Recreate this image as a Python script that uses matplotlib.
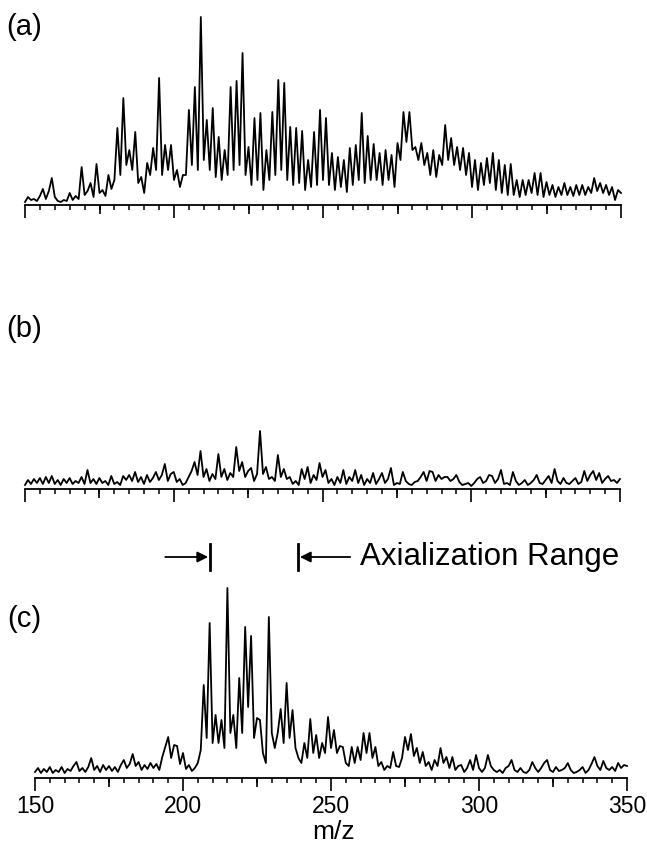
import numpy as np
import matplotlib
matplotlib.use("Agg")
import matplotlib.pyplot as plt

plt.rcParams['font.family'] = ['Liberation Sans', 'DejaVu Sans']

# m/z axis (one value per mass unit)
mz = list(range(150, 351))

# Panel (a) intensities (arbitrary units), m/z 150..350
spec_a = [
    3, 8, 5, 6, 4, 9, 16, 6, 14, 27,            # 150-159
    8, 4, 3, 5, 4, 12, 5, 9, 6, 38,             # 160-169
    10, 14, 22, 8, 41, 12, 15, 9, 30, 16,       # 170-179
    25, 77, 30, 107, 40, 55, 35, 73, 22, 28,    # 180-189
    12, 42, 30, 57, 35, 127, 30, 60, 35, 60,    # 190-199
    25, 35, 18, 30, 30, 95, 40, 118, 35, 188,   # 200-209
    45, 85, 35, 97, 28, 68, 25, 55, 30, 118,    # 210-219
    35, 124, 40, 152, 30, 58, 20, 87, 25, 92,   # 220-229
    15, 55, 25, 93, 30, 125, 35, 122, 25, 78,   # 230-239
    20, 77, 22, 74, 15, 45, 18, 73, 20, 95,     # 240-249
    25, 87, 20, 52, 15, 48, 18, 45, 13, 57,     # 250-259
    20, 60, 25, 92, 22, 69, 25, 61, 25, 52,     # 260-269
    20, 55, 25, 50, 18, 62, 45, 93, 63, 93,     # 270-279
    55, 58, 45, 62, 40, 52, 30, 55, 28, 50,     # 280-289
    40, 80, 45, 67, 40, 58, 35, 57, 30, 52,     # 290-299
    18, 45, 15, 42, 20, 47, 22, 52, 15, 45,     # 300-309
    12, 40, 10, 41, 10, 25, 8, 25, 10, 25,      # 310-319
    12, 32, 10, 32, 8, 23, 10, 20, 8, 18,       # 320-329
    10, 22, 10, 18, 9, 20, 10, 20, 10, 18,      # 330-339
    12, 27, 14, 22, 12, 20, 10, 18, 5, 15,      # 340-349
    12,                                          # 350
]

# Panel (b) intensities, m/z 150..350
spec_b = [
    4, 9, 5, 10, 6, 11, 5, 12, 6, 13,           # 150-159
    5, 9, 4, 10, 6, 11, 5, 8, 6, 12,            # 160-169
    5, 19, 6, 10, 5, 11, 6, 8, 4, 13,           # 170-179
    5, 7, 4, 13, 9, 14, 8, 17, 7, 12,           # 180-189
    5, 14, 7, 11, 17, 9, 14, 25, 8, 15,         # 190-199
    17, 7, 10, 4, 6, 12, 18, 27, 14, 38,        # 200-209
    12, 20, 8, 15, 10, 35, 12, 20, 9, 16,       # 210-219
    12, 42, 18, 27, 12, 18, 21, 8, 15, 58,      # 220-229
    15, 22, 10, 12, 8, 34, 12, 20, 10, 12,      # 230-239
    5, 8, 4, 20, 10, 22, 6, 14, 9, 26,          # 240-249
    12, 19, 6, 10, 4, 12, 6, 19, 5, 12,         # 250-259
    8, 19, 6, 14, 4, 10, 6, 16, 5, 10,          # 260-269
    16, 6, 10, 21, 4, 6, 5, 17, 8, 5,           # 270-279
    4, 7, 8, 12, 17, 8, 18, 17, 8, 14,          # 280-289
    10, 12, 12, 8, 10, 14, 7, 4, 5, 6,          # 290-299
    3, 6, 10, 12, 6, 8, 14, 13, 6, 10,          # 300-309
    19, 5, 6, 4, 17, 8, 4, 6, 9, 4,             # 310-319
    6, 9, 14, 6, 5, 9, 13, 6, 20, 8,            # 320-329
    5, 11, 6, 5, 8, 11, 5, 7, 18, 8,            # 330-339
    14, 18, 9, 16, 6, 10, 13, 8, 9, 6,          # 340-349
    10,                                          # 350
]

# Panel (c) intensities, m/z 150..350
spec_c = [
    6, 10, 5, 9, 6, 11, 5, 8, 6, 11,            # 150-159
    5, 9, 7, 12, 16, 7, 10, 6, 11, 20,          # 160-169
    8, 12, 6, 13, 8, 12, 7, 11, 6, 13,          # 170-179
    18, 10, 14, 24, 12, 16, 8, 13, 9, 15,       # 180-189
    10, 14, 8, 21, 31, 41, 20, 33, 32, 14,      # 190-199
    25, 9, 13, 7, 10, 15, 28, 93, 40, 155,      # 200-209
    35, 63, 35, 58, 30, 190, 45, 63, 30, 100,   # 210-219
    45, 151, 71, 142, 40, 60, 58, 25, 15, 161,  # 220-229
    45, 30, 45, 69, 35, 95, 40, 68, 30, 20,     # 230-239
    15, 35, 20, 59, 25, 43, 20, 35, 25, 61,     # 240-249
    30, 48, 25, 32, 31, 15, 12, 31, 15, 31,     # 250-259
    18, 45, 25, 45, 20, 31, 12, 16, 8, 12,      # 260-269
    10, 26, 12, 11, 20, 41, 28, 44, 22, 30,     # 270-279
    15, 26, 12, 16, 8, 18, 12, 30, 15, 21,      # 280-289
    10, 21, 8, 12, 13, 6, 10, 18, 8, 23,        # 290-299
    10, 6, 10, 23, 12, 8, 6, 8, 5, 10,          # 300-309
    12, 18, 8, 6, 10, 6, 5, 8, 16, 10,          # 310-319
    6, 10, 15, 18, 8, 6, 11, 7, 8, 10,          # 320-329
    15, 8, 5, 6, 8, 11, 5, 8, 14, 21,           # 330-339
    12, 8, 17, 10, 8, 11, 7, 15, 10, 13,        # 340-349
    12,                                          # 350
]

major_ticks = [150, 200, 250, 300, 350]
medium_ticks = [175, 225, 275, 325]
minor_ticks = list(range(150, 351, 5))
axial_range = [209, 239]

W, H = 647, 844
fig = plt.figure(figsize=(W / 100, H / 100), dpi=100)


def make_axes(left_px, axis_y_px, width_px, height_px):
    ax = fig.add_axes([left_px / W, (H - axis_y_px) / H, width_px / W, height_px / H])
    ax.set_xlim(150, 350)
    ax.set_ylim(0, height_px)
    for s in ['top', 'left', 'right']:
        ax.spines[s].set_visible(False)
    ax.spines['bottom'].set_linewidth(1.3)
    ax.yaxis.set_visible(False)
    ax.set_xticks(major_ticks)
    ax.set_xticks(minor_ticks, minor=True)
    ax.tick_params(axis='x', which='major', direction='out', length=9.4, width=1.2,
                   labelsize=16.5, pad=2.5)
    ax.tick_params(axis='x', which='minor', direction='out', length=3.6, width=1.1)
    ax.vlines(medium_ticks, -9, 0, colors='black', lw=1.2, clip_on=False)
    ax.patch.set_alpha(0)
    return ax


ax_a = make_axes(25, 205, 596, 200)
ax_b = make_axes(25, 489, 595, 80)
ax_c = make_axes(35, 778, 592, 230)

for ax, spec in [(ax_a, spec_a), (ax_b, spec_b), (ax_c, spec_c)]:
    ax.plot(mz, spec, color='black', lw=1.3, clip_on=False)

ax_a.set_xticklabels([])
ax_b.set_xticklabels([])
ax_c.set_xticklabels([str(t) for t in major_ticks])

# panel labels
fig.text(24 / W, 1 - 27 / H, '(a)', fontsize=21, ha='center', va='center')
fig.text(24 / W, 1 - 329 / H, '(b)', fontsize=21, ha='center', va='center')
fig.text(24 / W, 1 - 619 / H, '(c)', fontsize=21, ha='center', va='center')

# x label
fig.text(334 / W, 1 - 832 / H, 'm/z', fontsize=19, ha='center', va='center')

# axialization range markers (in panel (c) m/z coordinates)
y_arrow = 221
ax_c.plot([axial_range[0]] * 2, [y_arrow - 13, y_arrow + 13], color='black', lw=2.0, clip_on=False)
ax_c.plot([axial_range[1]] * 2, [y_arrow - 13, y_arrow + 13], color='black', lw=2.0, clip_on=False)
ax_c.annotate('', xy=(axial_range[0] - 0.5, y_arrow), xytext=(194, y_arrow),
              arrowprops=dict(arrowstyle='-|>', lw=1.3, color='black',
                              mutation_scale=16, shrinkA=0, shrinkB=0),
              annotation_clip=False)
ax_c.annotate('', xy=(axial_range[1] + 0.5, y_arrow), xytext=(256.5, y_arrow),
              arrowprops=dict(arrowstyle='-|>', lw=1.3, color='black',
                              mutation_scale=16, shrinkA=0, shrinkB=0),
              annotation_clip=False)
fig.text(360 / W, 1 - 565 / H, 'Axialization Range', fontsize=22.5, ha='left', va='baseline')

fig.savefig('out.png', dpi=100)
